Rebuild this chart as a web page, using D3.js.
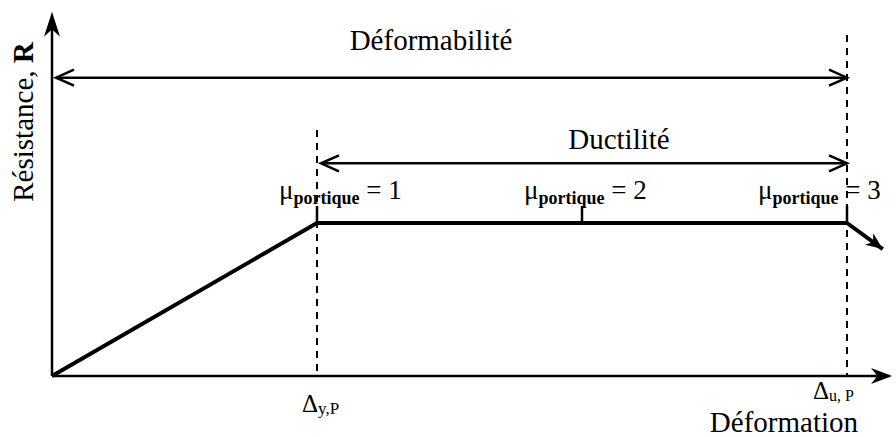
<!DOCTYPE html>
<html>
<head>
<meta charset="utf-8">
<script src="https://cdn.jsdelivr.net/npm/d3@7"></script>
<style>
  body { margin: 0; background: #fff; }
  text { font-family: "Liberation Serif", "Times New Roman", serif; fill: #000; }
</style>
</head>
<body>
<div id="chart"></div>
<script>
var width = 896,
    height = 437;

// deformation in units of the yield displacement (mu = delta / delta_y),
// resistance normalised by the yield resistance
var curve = [[0, 0], [1, 1], [3, 1]];
var softening = [[3, 1], [3.135, 0.83]];
var muValues = [1, 2, 3];
var limitNames = ["y,P", "u, P"];
var limitValues = [1, 3];
var rangeNames = ["Déformabilité", "Ductilité"];
var rangeFrom = [0, 1];
var rangeTo = [3, 3];
var rangeLevel = [1.95, 1.39];

var x = d3.scaleLinear().domain([0, 3]).range([52, 847]),
    y = d3.scaleLinear().domain([0, 1]).range([376, 223]);

var svg = d3.select("#chart").append("svg")
    .attr("width", width)
    .attr("height", height);

var line = d3.line()
    .x(function(d) { return x(d[0]); })
    .y(function(d) { return y(d[1]); });

// filled notched arrow head at (tx,ty) pointing along angle a
function stealth(tx, ty, a, len, half) {
  var c = Math.cos(a), s = Math.sin(a);
  function p(u, v) { return (tx + u * c - v * s) + "," + (ty + u * s + v * c); }
  return "M" + p(0, 0) + "L" + p(-len, -half) + "L" + p(-len * 0.7, 0) + "L" + p(-len, half) + "Z";
}

// open V arrow head
function vhead(tx, ty, dir) {
  return "M" + (tx - dir * 18) + "," + (ty - 8) + "L" + tx + "," + ty + "L" + (tx - dir * 18) + "," + (ty + 8);
}

// axes
var axes = svg.append("g").attr("stroke", "#000").attr("stroke-width", 2.5);
axes.append("line")
    .attr("x1", x(0)).attr("y1", y(0)).attr("x2", x(3.16)).attr("y2", y(0));
axes.append("line")
    .attr("x1", x(0)).attr("y1", y(0)).attr("x2", x(0)).attr("y2", y(2.3));
svg.append("path").attr("d", stealth(x(3.17), y(0), 0, 21, 8));
svg.append("path").attr("d", stealth(x(0), y(2.38), -Math.PI / 2, 25, 8));

// dashed limits
svg.selectAll(".limit")
    .data(limitValues)
  .enter().append("line")
    .attr("class", "limit")
    .attr("x1", function(d) { return x(d); })
    .attr("x2", function(d) { return x(d); })
    .attr("y1", function(d, i) { return i == 0 ? 130 : 35; })
    .attr("y2", y(0))
    .attr("stroke", "#000")
    .attr("stroke-width", 2)
    .attr("stroke-dasharray", "7,6");

// mu ticks
svg.selectAll(".mutick")
    .data(muValues)
  .enter().append("line")
    .attr("class", "mutick")
    .attr("x1", function(d) { return x(d); })
    .attr("x2", function(d) { return x(d); })
    .attr("y1", y(1) - 17)
    .attr("y2", y(1))
    .attr("stroke", "#000")
    .attr("stroke-width", 2.5);

var labelStart = [-38, -58, -89];
var muLabel = svg.selectAll(".mulabel")
    .data(muValues)
  .enter().append("text")
    .attr("class", "mulabel")
    .attr("x", function(d, i) { return x(d) + labelStart[i]; })
    .attr("y", y(1) - 24);
muLabel.append("tspan").style("font-size", "27px").text("μ");
muLabel.append("tspan").style("font-size", "18px").style("font-weight", "bold")
    .attr("dy", 5).text("portique");
muLabel.append("tspan").style("font-size", "27px")
    .attr("dy", -5).text(function(d) { return " = " + d; });

// resistance curve
svg.append("path")
    .datum(curve)
    .attr("d", line)
    .attr("fill", "none")
    .attr("stroke", "#000")
    .attr("stroke-width", 4)
    .attr("stroke-linejoin", "miter");
svg.append("path")
    .datum(softening)
    .attr("d", line)
    .attr("fill", "none")
    .attr("stroke", "#000")
    .attr("stroke-width", 4);
var sa = Math.atan2(y(softening[1][1]) - y(softening[0][1]), x(softening[1][0]) - x(softening[0][0]));
svg.append("path").attr("d", stealth(x(softening[1][0]), y(softening[1][1]), sa, 17, 7));

// range dimension arrows
var ranges = svg.selectAll(".range")
    .data(rangeNames)
  .enter().append("g")
    .attr("class", "range");
ranges.append("line")
    .attr("x1", function(d, i) { return x(rangeFrom[i]) + 4; })
    .attr("x2", function(d, i) { return x(rangeTo[i]); })
    .attr("y1", function(d, i) { return y(rangeLevel[i]); })
    .attr("y2", function(d, i) { return y(rangeLevel[i]); })
    .attr("stroke", "#000")
    .attr("stroke-width", 2.5);
ranges.append("path")
    .attr("d", function(d, i) {
      return vhead(x(rangeFrom[i]) + 4, y(rangeLevel[i]), -1) + vhead(x(rangeTo[i]), y(rangeLevel[i]), 1);
    })
    .attr("fill", "none")
    .attr("stroke", "#000")
    .attr("stroke-width", 2.5);
var rangeCenter = [431, 619];
var rangeLift = [28, 14];
ranges.append("text")
    .attr("x", function(d, i) { return rangeCenter[i]; })
    .attr("y", function(d, i) { return y(rangeLevel[i]) - rangeLift[i]; })
    .attr("text-anchor", "middle")
    .style("font-size", "29px")
    .text(function(d) { return d; });

// limit labels
var limitLabel = svg.selectAll(".limitlabel")
    .data(limitValues)
  .enter().append("text")
    .attr("class", "limitlabel")
    .attr("x", function(d, i) { return x(d) + (i == 0 ? -15 : -34); })
    .attr("y", function(d, i) { return i == 0 ? 412 : 399; });
limitLabel.append("tspan").style("font-size", "25px").text("Δ");
limitLabel.append("tspan").style("font-size", function(d, i) { return i == 0 ? "17px" : "16px"; })
    .attr("dy", 2)
    .text(function(d, i) { return limitNames[i]; });

// axis titles
svg.append("text")
    .attr("x", 858)
    .attr("y", 432)
    .attr("text-anchor", "end")
    .style("font-size", "29px")
    .text("Déformation");

var ytitle = svg.append("text")
    .attr("transform", "translate(33,122)rotate(-90)")
    .attr("text-anchor", "middle")
    .style("font-size", "29px");
ytitle.append("tspan").text("Résistance, ");
ytitle.append("tspan").style("font-weight", "bold").text("R");
</script>
</body>
</html>
